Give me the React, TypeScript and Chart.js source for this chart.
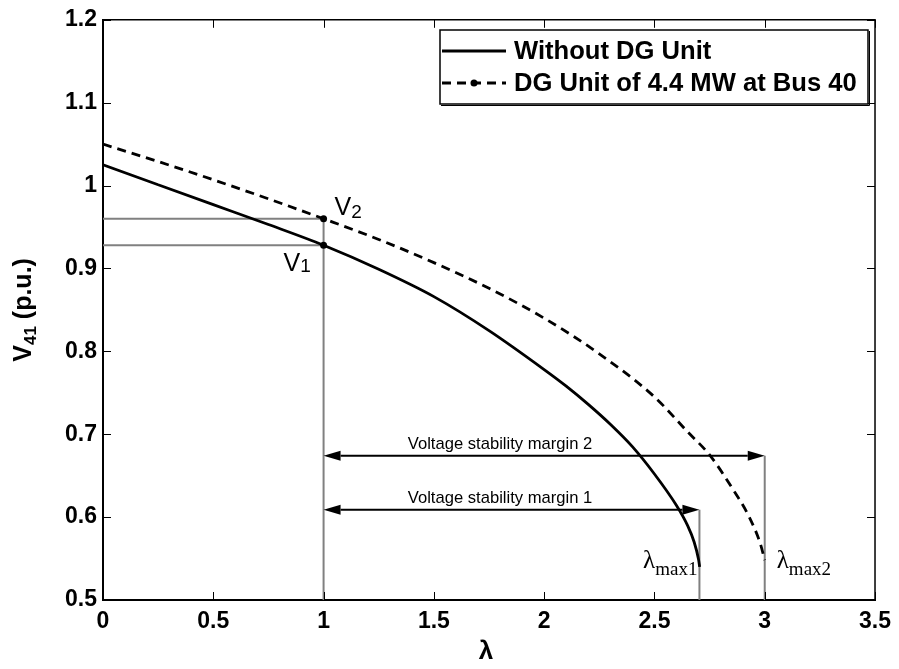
import React, { useEffect, useRef } from "react";
import { Chart, registerables } from "chart.js";

Chart.register(...registerables);

// ---- Data ----
const lambdaNoDG = [0, 0.25, 0.5, 0.75, 1.0, 1.25, 1.5, 1.75, 2.0, 2.1, 2.2, 2.3, 2.4, 2.5, 2.6, 2.65, 2.68, 2.7, 2.705];
const voltageNoDG = [1.025, 1.001, 0.977, 0.953, 0.928, 0.899, 0.866, 0.825, 0.778, 0.758, 0.736, 0.712, 0.685, 0.652, 0.614, 0.59, 0.57, 0.549, 0.54];

const lambdaDG = [0, 0.25, 0.5, 0.75, 1.0, 1.25, 1.5, 1.75, 2.0, 2.25, 2.5, 2.65, 2.75, 2.85, 2.93, 2.98, 3.0];
const voltageDG = [1.05, 1.029, 1.007, 0.984, 0.96, 0.935, 0.907, 0.876, 0.84, 0.797, 0.745, 0.703, 0.675, 0.636, 0.6, 0.568, 0.548];

const xTickValues = [0, 0.5, 1, 1.5, 2, 2.5, 3, 3.5];
const yTickValues = [0.5, 0.6, 0.7, 0.8, 0.9, 1.0, 1.1, 1.2];

const legendLabels = ["Without DG Unit", "DG Unit of 4.4 MW at Bus 40"];
const marginLabels = ["Voltage stability margin 1", "Voltage stability margin 2"];

const lambdaBase = 1.0;
const V1 = 0.928;
const V2 = 0.96;
const lambdaMax1 = 2.704;
const lambdaMax2 = 3.0;
const margin1Level = 0.609;
const margin2Level = 0.674;

const FONT = "'Liberation Sans', Arial, Helvetica, sans-serif";
const SERIF = "'Liberation Serif', 'Times New Roman', serif";
const GUIDE = "#808080";

function fmt(v: number) {
  return String(Number(v.toFixed(2)));
}

const annotationPlugin = {
  id: "matlabAnnotations",
  afterDatasetsDraw(chart: any) {
    const { ctx, chartArea: a, scales } = chart;
    const xs = scales.x;
    const ys = scales.y;
    ctx.save();

    // frame (top/right) and inner ticks
    ctx.strokeStyle = "#000";
    ctx.lineWidth = 1.5;
    ctx.beginPath();
    ctx.moveTo(a.left, a.top);
    ctx.lineTo(a.right, a.top);
    ctx.lineTo(a.right, a.bottom);
    ctx.stroke();
    ctx.lineWidth = 1;
    const tl = 8;
    ctx.beginPath();
    xTickValues.forEach((v) => {
      const px = Math.round(xs.getPixelForValue(v)) + 0.5;
      ctx.moveTo(px, a.bottom);
      ctx.lineTo(px, a.bottom - tl);
      ctx.moveTo(px, a.top);
      ctx.lineTo(px, a.top + tl);
    });
    yTickValues.forEach((v) => {
      const py = Math.round(ys.getPixelForValue(v)) + 0.5;
      ctx.moveTo(a.left, py);
      ctx.lineTo(a.left + tl, py);
      ctx.moveTo(a.right, py);
      ctx.lineTo(a.right - tl, py);
    });
    ctx.stroke();

    // arrows
    const drawArrow = (x0: number, x1: number, y: number) => {
      const px0 = xs.getPixelForValue(x0);
      const px1 = xs.getPixelForValue(x1);
      const py = ys.getPixelForValue(y);
      const hl = 17;
      const hw = 5;
      ctx.strokeStyle = "#000";
      ctx.fillStyle = "#000";
      ctx.lineWidth = 2;
      ctx.beginPath();
      ctx.moveTo(px0 + hl, py);
      ctx.lineTo(px1 - hl, py);
      ctx.stroke();
      ctx.beginPath();
      ctx.moveTo(px0, py);
      ctx.lineTo(px0 + hl, py - hw);
      ctx.lineTo(px0 + hl, py + hw);
      ctx.closePath();
      ctx.fill();
      ctx.beginPath();
      ctx.moveTo(px1, py);
      ctx.lineTo(px1 - hl, py - hw);
      ctx.lineTo(px1 - hl, py + hw);
      ctx.closePath();
      ctx.fill();
    };
    drawArrow(lambdaBase, lambdaMax1, margin1Level);
    drawArrow(lambdaBase, lambdaMax2, margin2Level);

    // margin labels
    ctx.fillStyle = "#000";
    ctx.font = `16.6px ${FONT}`;
    ctx.textAlign = "center";
    ctx.textBaseline = "alphabetic";
    const midX = xs.getPixelForValue(1.8);
    ctx.fillText(marginLabels[0], midX, ys.getPixelForValue(margin1Level) - 7);
    ctx.fillText(marginLabels[1], midX, ys.getPixelForValue(margin2Level) - 7);

    // V1 / V2 labels
    ctx.textAlign = "left";
    const bx = xs.getPixelForValue(lambdaBase);
    const drawSub = (main: string, sub: string, x: number, y: number, mf: string, sf: string, dy: number) => {
      ctx.font = mf;
      ctx.fillText(main, x, y);
      const w = ctx.measureText(main).width;
      ctx.font = sf;
      ctx.fillText(sub, x + w, y + dy);
      return w + ctx.measureText(sub).width;
    };
    drawSub("V", "2", bx + 11, ys.getPixelForValue(V2) - 4, `25px ${FONT}`, `19px ${FONT}`, 3);
    drawSub("V", "1", bx - 40, ys.getPixelForValue(V1) + 26, `25px ${FONT}`, `19px ${FONT}`, 1);

    // lambda max labels
    const lm1x = xs.getPixelForValue(lambdaMax1);
    const lm2x = xs.getPixelForValue(lambdaMax2);
    const baseY = ys.getPixelForValue(0.5) - 32;
    ctx.font = `25px ${SERIF}`;
    const lw = ctx.measureText("λ").width;
    ctx.font = `19px ${SERIF}`;
    const sw = ctx.measureText("max1").width;
    drawSub("λ", "max1", lm1x - 2 - lw - sw, baseY, `25px ${SERIF}`, `19px ${SERIF}`, 7);
    drawSub("λ", "max2", lm2x + 12, baseY, `25px ${SERIF}`, `19px ${SERIF}`, 7);

    // legend
    const L = { x: 440, y: 30, w: 428, h: 74 };
    ctx.fillStyle = "#fff";
    ctx.fillRect(L.x, L.y, L.w, L.h);
    ctx.strokeStyle = "#000";
    ctx.lineWidth = 1.5;
    ctx.strokeRect(L.x, L.y, L.w, L.h);
    ctx.lineWidth = 1;
    ctx.beginPath();
    ctx.moveTo(L.x + 1, L.y + L.h + 1.5);
    ctx.lineTo(L.x + L.w + 1.5, L.y + L.h + 1.5);
    ctx.lineTo(L.x + L.w + 1.5, L.y + 1);
    ctx.stroke();

    const row1 = L.y + 21;
    const row2 = L.y + 53;
    ctx.lineWidth = 2.8;
    ctx.beginPath();
    ctx.moveTo(L.x + 2, row1);
    ctx.lineTo(L.x + 66, row1);
    ctx.stroke();
    ctx.setLineDash([9, 6]);
    ctx.beginPath();
    ctx.moveTo(L.x + 2, row2);
    ctx.lineTo(L.x + 66, row2);
    ctx.stroke();
    ctx.setLineDash([]);
    ctx.fillStyle = "#000";
    ctx.beginPath();
    ctx.arc(L.x + 34, row2, 3.5, 0, Math.PI * 2);
    ctx.fill();

    ctx.font = `bold 25.6px ${FONT}`;
    ctx.textBaseline = "middle";
    ctx.textAlign = "left";
    ctx.fillText(legendLabels[0], L.x + 74, row1 + 1);
    ctx.fillText(legendLabels[1], L.x + 74, row2 + 1);

    ctx.restore();
  },
  afterDraw(chart: any) {
    const { ctx, chartArea: a } = chart;
    ctx.save();
    ctx.fillStyle = "#000";
    // x title
    ctx.font = `bold 26px ${FONT}`;
    ctx.textAlign = "center";
    ctx.textBaseline = "middle";
    ctx.fillText("λ", (a.left + a.right) / 2 - 3, 652);
    // y title (rotated)
    ctx.translate(31, (a.top + a.bottom) / 2);
    ctx.rotate(-Math.PI / 2);
    ctx.textBaseline = "alphabetic";
    const f1 = `bold 25px ${FONT}`;
    const f2 = `bold 17px ${FONT}`;
    ctx.font = f1;
    const wV = ctx.measureText("V").width;
    const wP = ctx.measureText(" (p.u.)").width;
    ctx.font = f2;
    const w41 = ctx.measureText("41").width;
    let x = -(wV + w41 + wP) / 2;
    ctx.textAlign = "left";
    ctx.font = f1;
    ctx.fillText("V", x, 0);
    x += wV;
    ctx.font = f2;
    ctx.fillText("41", x, 5);
    x += w41;
    ctx.font = f1;
    ctx.fillText(" (p.u.)", x, 0);
    ctx.restore();
  },
};

export default function App() {
  const canvasRef = useRef<HTMLCanvasElement | null>(null);

  useEffect(() => {
    const canvas = canvasRef.current;
    if (!canvas) return;

    const toPoints = (xs: number[], ys: number[]) => xs.map((x, i) => ({ x, y: ys[i] }));
    const markAtBase = (c: any) => (c.raw && c.raw.x === lambdaBase ? 3.5 : 0);

    const chart = new Chart(canvas, {
      type: "scatter",
      data: {
        datasets: [
          {
            label: legendLabels[0],
            data: toPoints(lambdaNoDG, voltageNoDG),
            showLine: true,
            borderColor: "#000",
            backgroundColor: "#000",
            borderWidth: 2.8,
            pointRadius: markAtBase,
            pointBorderWidth: 0,
            cubicInterpolationMode: "monotone",
            order: 0,
          },
          {
            label: legendLabels[1],
            data: toPoints(lambdaDG, voltageDG),
            showLine: true,
            borderColor: "#000",
            backgroundColor: "#000",
            borderWidth: 2.8,
            borderDash: [9, 6],
            pointRadius: markAtBase,
            pointBorderWidth: 0,
            cubicInterpolationMode: "monotone",
            order: 0,
          },
          // guide lines
          {
            label: "g1",
            data: [{ x: 0, y: V1 }, { x: lambdaBase, y: V1 }],
            showLine: true, borderColor: GUIDE, borderWidth: 2, pointRadius: 0, order: 1,
          },
          {
            label: "g2",
            data: [{ x: 0, y: V2 }, { x: lambdaBase, y: V2 }],
            showLine: true, borderColor: GUIDE, borderWidth: 2, pointRadius: 0, order: 1,
          },
          {
            label: "g3",
            data: [{ x: lambdaBase, y: 0.5 }, { x: lambdaBase, y: V2 }],
            showLine: true, borderColor: GUIDE, borderWidth: 2, pointRadius: 0, order: 1,
          },
          {
            label: "g4",
            data: [{ x: lambdaMax1, y: 0.5 }, { x: lambdaMax1, y: margin1Level }],
            showLine: true, borderColor: GUIDE, borderWidth: 2, pointRadius: 0, order: 1,
          },
          {
            label: "g5",
            data: [{ x: lambdaMax2, y: 0.5 }, { x: lambdaMax2, y: margin2Level }],
            showLine: true, borderColor: GUIDE, borderWidth: 2, pointRadius: 0, order: 1,
          },
        ],
      },
      options: {
        responsive: false,
        animation: false,
        events: [],
        layout: { padding: { top: 18, right: 21, left: 0, bottom: 0 } },
        plugins: {
          legend: { display: false },
          tooltip: { enabled: false },
        },
        scales: {
          x: {
            type: "linear",
            min: 0,
            max: 3.5,
            afterBuildTicks: (s: any) => {
              s.ticks = xTickValues.map((v) => ({ value: v }));
            },
            afterFit: (s: any) => {
              s.height = 69;
            },
            grid: { display: false, drawTicks: false },
            border: { display: true, color: "#000", width: 2 },
            ticks: {
              color: "#000",
              font: { family: FONT, size: 23, weight: "bold" },
              padding: 8,
              maxRotation: 0,
              autoSkip: false,
              callback: (v: any) => fmt(Number(v)),
            },
          },
          y: {
            type: "linear",
            min: 0.5,
            max: 1.2,
            afterBuildTicks: (s: any) => {
              s.ticks = yTickValues.map((v) => ({ value: v }));
            },
            afterFit: (s: any) => {
              s.width = 103;
            },
            grid: { display: false, drawTicks: false },
            border: { display: true, color: "#000", width: 2 },
            ticks: {
              color: "#000",
              font: { family: FONT, size: 23, weight: "bold" },
              padding: 6,
              autoSkip: false,
              callback: (v: any) => fmt(Number(v)),
            },
          },
        },
      },
      plugins: [annotationPlugin],
    } as any);

    return () => chart.destroy();
  }, []);

  return (
    <div style={{ position: "absolute", left: 0, top: 0, width: 899, height: 669, background: "#fff" }}>
      <canvas ref={canvasRef} width={899} height={669} style={{ display: "block" }} />
    </div>
  );
}
